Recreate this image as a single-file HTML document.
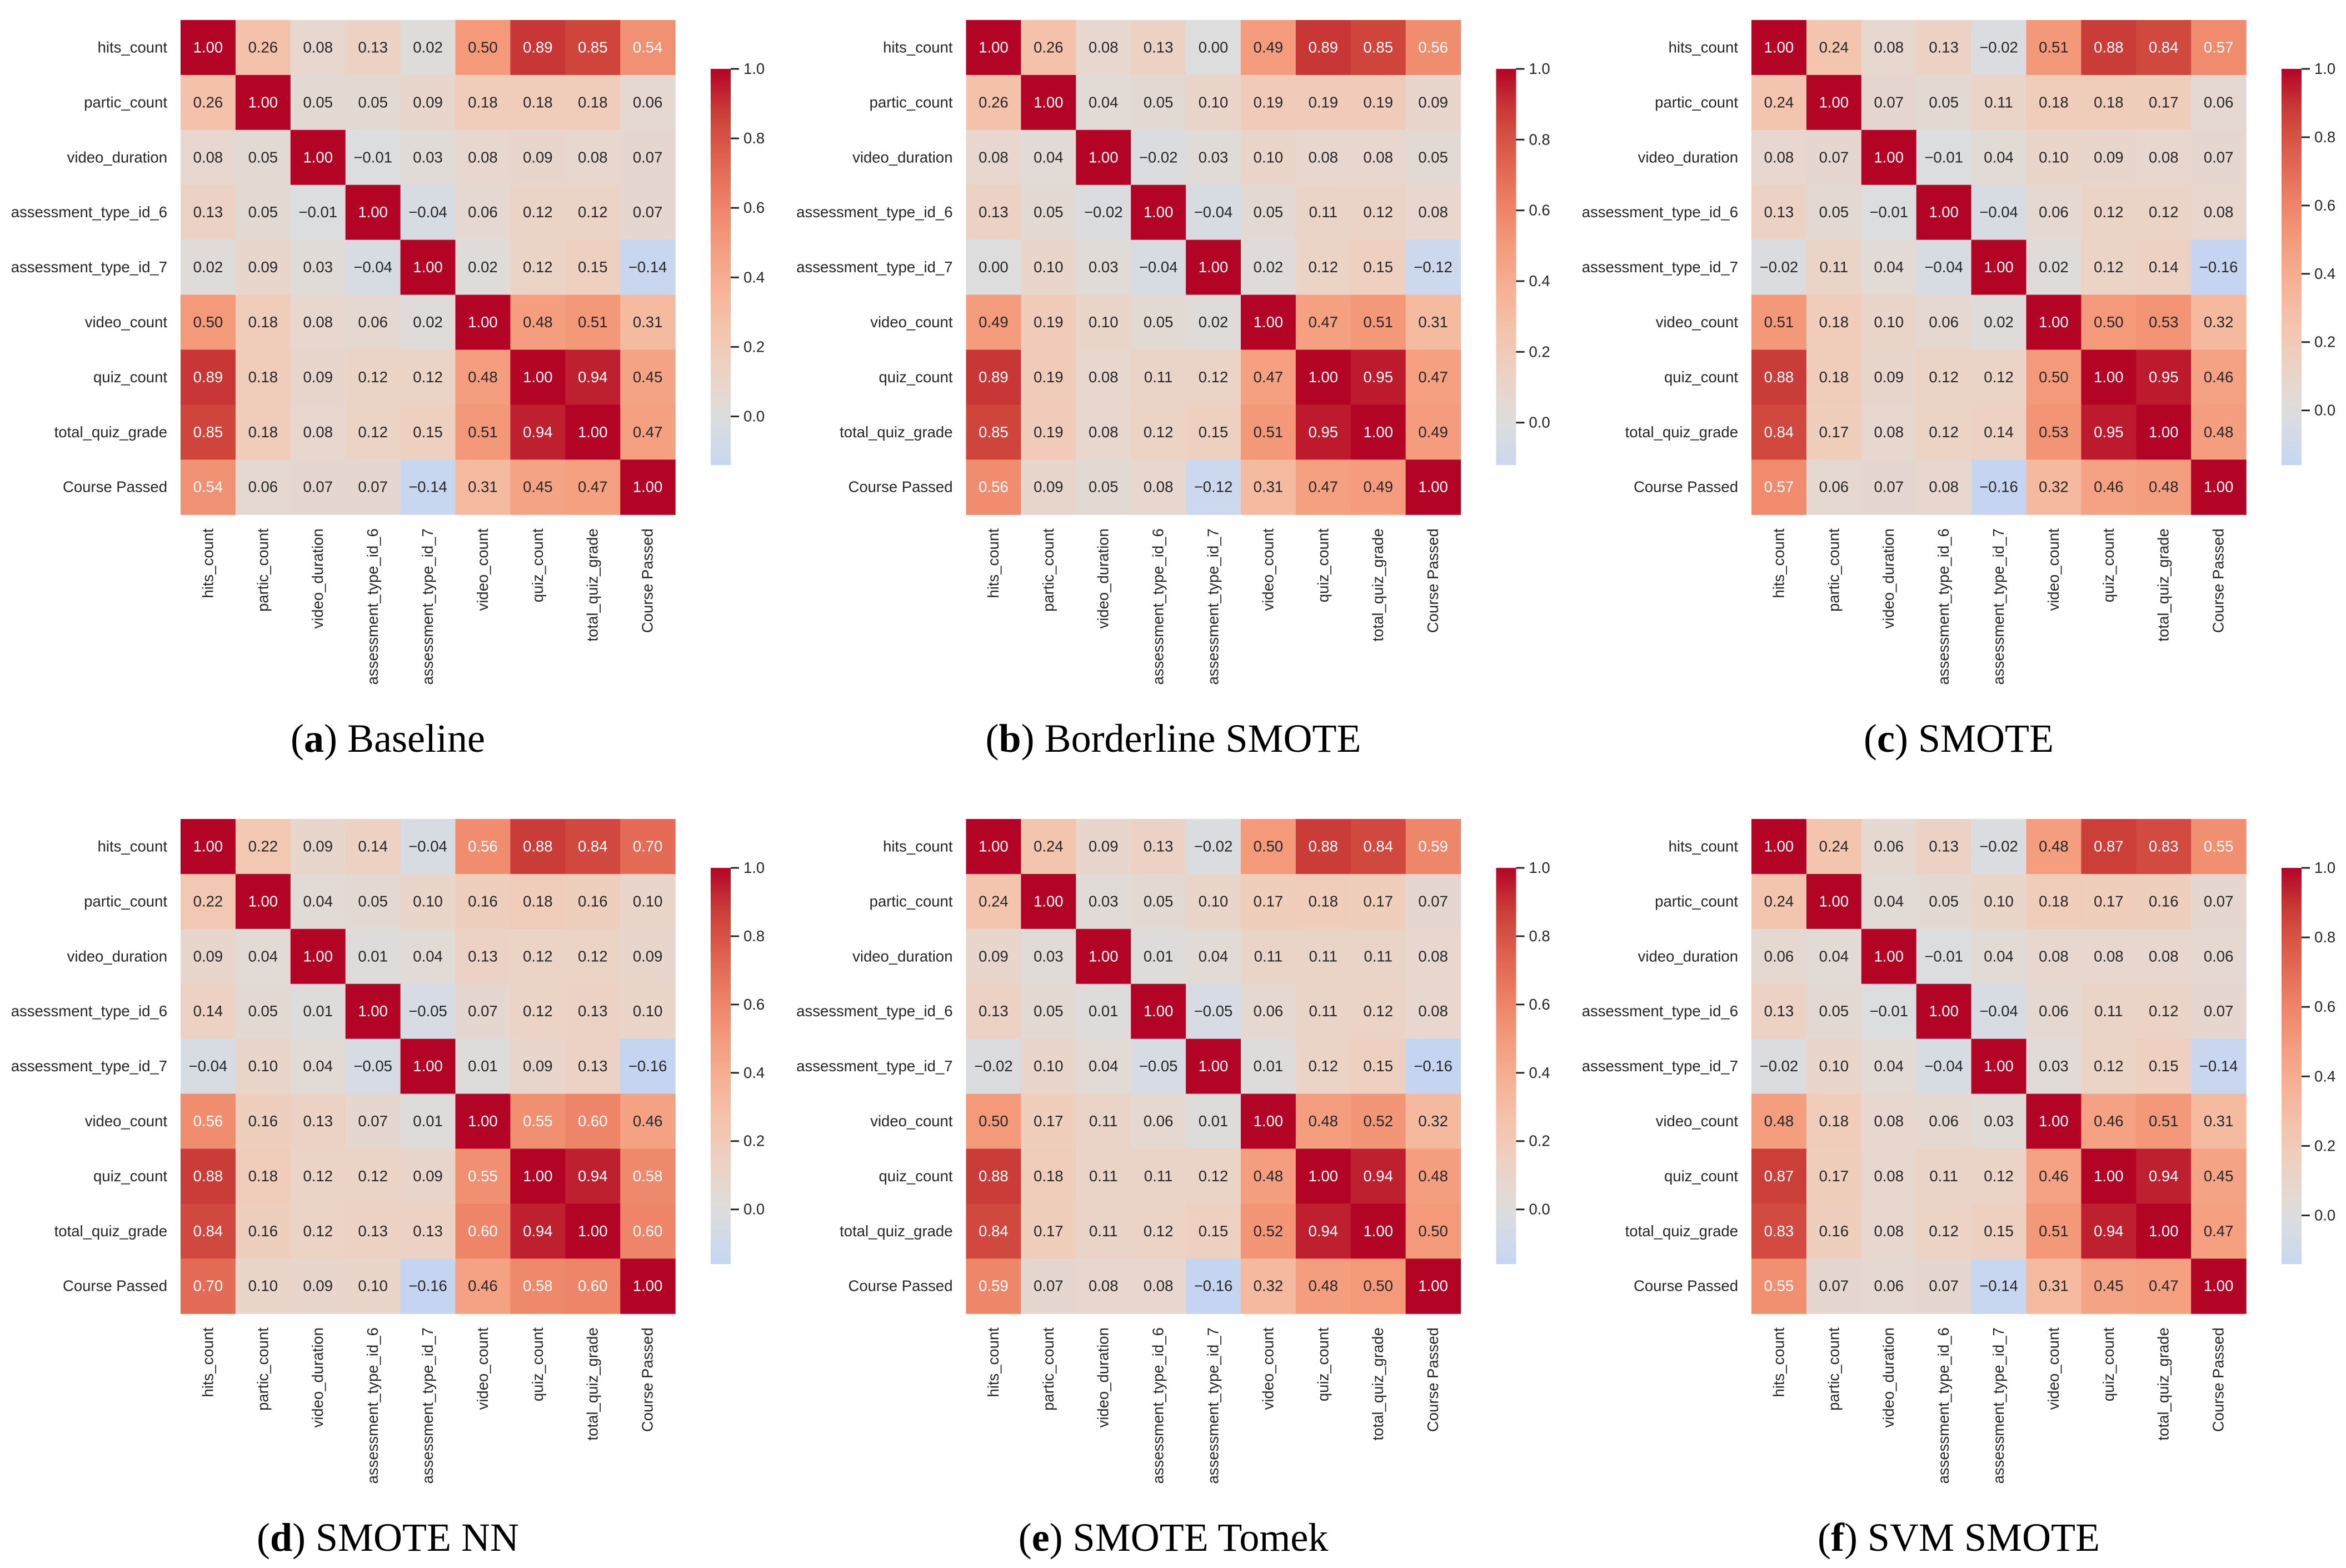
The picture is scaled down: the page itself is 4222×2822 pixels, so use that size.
<!DOCTYPE html>
<html><head><meta charset="utf-8"><style>
html,body{margin:0;padding:0;background:#fff;}
svg{display:block;}
</style></head><body>
<svg id="fig" xmlns="http://www.w3.org/2000/svg" width="4222" height="2822" viewBox="0 0 4222 2822"></svg>
<script>
const features = ["hits_count","partic_count","video_duration","assessment_type_id_6","assessment_type_id_7","video_count","quiz_count","total_quiz_grade","Course Passed"];
const panelLetters = ["a","b","c","d","e","f"];
const panelTitles = ["Baseline","Borderline SMOTE","SMOTE","SMOTE NN","SMOTE Tomek","SVM SMOTE"];
const colorbarTicks = [0.0,0.2,0.4,0.6,0.8,1.0];
const corrBaseline = [
[1.00,0.26,0.08,0.13,0.02,0.50,0.89,0.85,0.54],
[0.26,1.00,0.05,0.05,0.09,0.18,0.18,0.18,0.06],
[0.08,0.05,1.00,-0.01,0.03,0.08,0.09,0.08,0.07],
[0.13,0.05,-0.01,1.00,-0.04,0.06,0.12,0.12,0.07],
[0.02,0.09,0.03,-0.04,1.00,0.02,0.12,0.15,-0.14],
[0.50,0.18,0.08,0.06,0.02,1.00,0.48,0.51,0.31],
[0.89,0.18,0.09,0.12,0.12,0.48,1.00,0.94,0.45],
[0.85,0.18,0.08,0.12,0.15,0.51,0.94,1.00,0.47],
[0.54,0.06,0.07,0.07,-0.14,0.31,0.45,0.47,1.00]];
const corrBorderline = [
[1.00,0.26,0.08,0.13,0.00,0.49,0.89,0.85,0.56],
[0.26,1.00,0.04,0.05,0.10,0.19,0.19,0.19,0.09],
[0.08,0.04,1.00,-0.02,0.03,0.10,0.08,0.08,0.05],
[0.13,0.05,-0.02,1.00,-0.04,0.05,0.11,0.12,0.08],
[0.00,0.10,0.03,-0.04,1.00,0.02,0.12,0.15,-0.12],
[0.49,0.19,0.10,0.05,0.02,1.00,0.47,0.51,0.31],
[0.89,0.19,0.08,0.11,0.12,0.47,1.00,0.95,0.47],
[0.85,0.19,0.08,0.12,0.15,0.51,0.95,1.00,0.49],
[0.56,0.09,0.05,0.08,-0.12,0.31,0.47,0.49,1.00]];
const corrSmote = [
[1.00,0.24,0.08,0.13,-0.02,0.51,0.88,0.84,0.57],
[0.24,1.00,0.07,0.05,0.11,0.18,0.18,0.17,0.06],
[0.08,0.07,1.00,-0.01,0.04,0.10,0.09,0.08,0.07],
[0.13,0.05,-0.01,1.00,-0.04,0.06,0.12,0.12,0.08],
[-0.02,0.11,0.04,-0.04,1.00,0.02,0.12,0.14,-0.16],
[0.51,0.18,0.10,0.06,0.02,1.00,0.50,0.53,0.32],
[0.88,0.18,0.09,0.12,0.12,0.50,1.00,0.95,0.46],
[0.84,0.17,0.08,0.12,0.14,0.53,0.95,1.00,0.48],
[0.57,0.06,0.07,0.08,-0.16,0.32,0.46,0.48,1.00]];
const corrSmoteNN = [
[1.00,0.22,0.09,0.14,-0.04,0.56,0.88,0.84,0.70],
[0.22,1.00,0.04,0.05,0.10,0.16,0.18,0.16,0.10],
[0.09,0.04,1.00,0.01,0.04,0.13,0.12,0.12,0.09],
[0.14,0.05,0.01,1.00,-0.05,0.07,0.12,0.13,0.10],
[-0.04,0.10,0.04,-0.05,1.00,0.01,0.09,0.13,-0.16],
[0.56,0.16,0.13,0.07,0.01,1.00,0.55,0.60,0.46],
[0.88,0.18,0.12,0.12,0.09,0.55,1.00,0.94,0.58],
[0.84,0.16,0.12,0.13,0.13,0.60,0.94,1.00,0.60],
[0.70,0.10,0.09,0.10,-0.16,0.46,0.58,0.60,1.00]];
const corrSmoteTomek = [
[1.00,0.24,0.09,0.13,-0.02,0.50,0.88,0.84,0.59],
[0.24,1.00,0.03,0.05,0.10,0.17,0.18,0.17,0.07],
[0.09,0.03,1.00,0.01,0.04,0.11,0.11,0.11,0.08],
[0.13,0.05,0.01,1.00,-0.05,0.06,0.11,0.12,0.08],
[-0.02,0.10,0.04,-0.05,1.00,0.01,0.12,0.15,-0.16],
[0.50,0.17,0.11,0.06,0.01,1.00,0.48,0.52,0.32],
[0.88,0.18,0.11,0.11,0.12,0.48,1.00,0.94,0.48],
[0.84,0.17,0.11,0.12,0.15,0.52,0.94,1.00,0.50],
[0.59,0.07,0.08,0.08,-0.16,0.32,0.48,0.50,1.00]];
const corrSvmSmote = [
[1.00,0.24,0.06,0.13,-0.02,0.48,0.87,0.83,0.55],
[0.24,1.00,0.04,0.05,0.10,0.18,0.17,0.16,0.07],
[0.06,0.04,1.00,-0.01,0.04,0.08,0.08,0.08,0.06],
[0.13,0.05,-0.01,1.00,-0.04,0.06,0.11,0.12,0.07],
[-0.02,0.10,0.04,-0.04,1.00,0.03,0.12,0.15,-0.14],
[0.48,0.18,0.08,0.06,0.03,1.00,0.46,0.51,0.31],
[0.87,0.17,0.08,0.11,0.12,0.46,1.00,0.94,0.45],
[0.83,0.16,0.08,0.12,0.15,0.51,0.94,1.00,0.47],
[0.55,0.07,0.06,0.07,-0.14,0.31,0.45,0.47,1.00]];
const allMatrices = [corrBaseline,corrBorderline,corrSmote,corrSmoteNN,corrSmoteTomek,corrSvmSmote];

const NS="http://www.w3.org/2000/svg";
const svg=document.getElementById('fig');
const CELL=98.9, GX0=325, GDX=1413.5, GY0=36, GDY=1438;
const TXT="#262626", FONT='"Liberation Sans", Arial, sans-serif', FS=27.5, DY=9;
const cmapStops=[[0.375,[181,206,250]],[0.4375,[203,216,238]],[0.5,[221,221,221]],[0.5625,[236,211,197]],[0.625,[244,196,173]],[0.6875,[246,177,149]],[0.75,[244,154,123]],[0.8125,[236,127,99]],[0.875,[222,96,77]],[0.9375,[203,62,56]],[1.0,[180,4,38]]];
function cmap(v){
  let x=(v+1)/2; x=Math.max(0.375,Math.min(1,x));
  for(let i=1;i<cmapStops.length;i++){
    if(x<=cmapStops[i][0]){const a=cmapStops[i-1],b=cmapStops[i];const t=(x-a[0])/(b[0]-a[0]);
      return a[1].map((c,k)=>Math.round(c+(b[1][k]-c)*t));}
  }
  return cmapStops[cmapStops.length-1][1];
}
function lum(rgb){const l=rgb.map(c=>{c/=255;return c<=0.03928?c/12.92:Math.pow((c+0.055)/1.055,2.4);});return 0.2126*l[0]+0.7152*l[1]+0.0722*l[2];}
function el(tag,attrs,parent){const e=document.createElementNS(NS,tag);for(const k in attrs)e.setAttribute(k,attrs[k]);(parent||svg).appendChild(e);return e;}
function fmt(v){const s=Math.abs(v).toFixed(2);return (v<0?"\u2212":"")+s;}

allMatrices.forEach((M,p)=>{
  const col=p%3,row=Math.floor(p/3);
  const ox=GX0+col*GDX, oy=GY0+row*GDY;
  const g=el('g',{});
  
  
  const xs=i=>ox+i*CELL, ys=j=>oy+j*CELL;
  M.forEach((r,j)=>r.forEach((v,i)=>{
    const c=cmap(v);
    const rect=el('rect',{x:xs(i),y:ys(j),width:CELL+0.6,height:CELL+0.6,fill:`rgb(${c})`},g);
    
    
    const t=el('text',{x:xs(i)+CELL/2,y:ys(j)+CELL/2+DY,'text-anchor':'middle','font-family':FONT,'font-size':FS,fill:lum(c)<0.408?'#ffffff':TXT},g);
    t.textContent=fmt(v);
    
    
  }));
  features.forEach((f,j)=>{
    const t=el('text',{x:ox-24,y:ys(j)+CELL/2+DY,'text-anchor':'end','font-family':FONT,'font-size':FS,fill:TXT},g);
    t.textContent=f;
    
    
    const cx=xs(j)+CELL/2+DY, cy=oy+9*CELL+25;
    const u=el('text',{x:cx,y:cy,'text-anchor':'end','font-family':FONT,'font-size':FS,fill:TXT,transform:`rotate(-90 ${cx} ${cy})`},g);
    u.textContent=f;
    
    
  });
  let vmin=Math.min(...M.flat());
  const cbx=ox+954, cbTop=oy+88, cbH=713, cbW=36;
  const cy=v=>cbTop+(1-v)/(1-vmin)*cbH;
  const gid='grad'+p;
  const defs=el('defs',{},g);
  const lg=el('linearGradient',{id:gid,x1:0,y1:1,x2:0,y2:0},defs);
  for(let k=0;k<=20;k++){const v=vmin+(1-vmin)*k/20;el('stop',{offset:(k/20),'stop-color':`rgb(${cmap(v)})`},lg);}
  const cb=el('rect',{x:cbx,y:cbTop,width:cbW,height:cbH,fill:`url(#${gid})`},g);
  
  
  colorbarTicks.forEach(tv=>{
    const yy=cy(tv);
    const ln=el('line',{x1:cbx+cbW,x2:cbx+cbW+15,y1:yy,y2:yy,stroke:TXT,'stroke-width':3},g);
    
    
    const t=el('text',{x:cbx+cbW+23,y:yy+DY,'font-family':FONT,'font-size':FS,fill:TXT},g);
    t.textContent=tv.toFixed(1);
    
    
  });
  const cap=el('text',{x:ox+373,y:oy+1317,'text-anchor':'middle','font-family':'"Liberation Serif", serif','font-size':72,fill:'#000'},g);
  
  
  const t1=el('tspan',{},cap);t1.textContent='(';
  const t2=el('tspan',{'font-weight':'bold'},cap);t2.textContent=panelLetters[p];
  const t3=el('tspan',{},cap);t3.textContent=') '+panelTitles[p];
});
</script>
</body></html>
